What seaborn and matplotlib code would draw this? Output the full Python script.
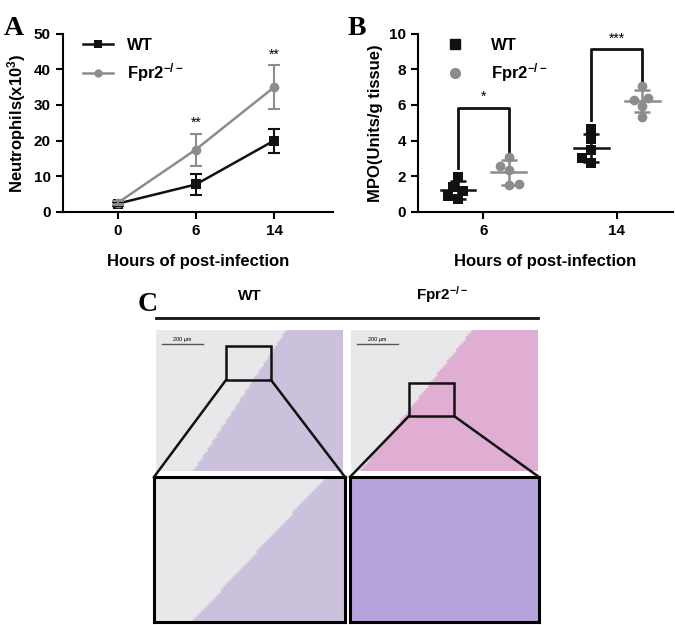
import numpy as np
import pandas as pd
import seaborn as sns
from matplotlib import pyplot as plt, rc
from matplotlib.lines import Line2D
from matplotlib.patches import Rectangle

rc('font', family='Liberation Sans', weight='bold', size=11)
rc('axes', linewidth=1.5, labelweight='bold')
rc('mathtext', fontset='custom', rm='Liberation Sans:bold', bf='Liberation Sans:bold',
   it='Liberation Sans:bold', default='bf')

# === DATA ===
hours = ['0', '6', '14']
wt_mean = [2.3, 7.7, 20.0]
wt_sd = [0.6, 2.9, 3.4]
ko_mean = [2.5, 17.5, 35.0]
ko_sd = [0.5, 4.5, 6.2]
sig_a = ['', '**', '**']

mpo_hours = ['6', '14']
mpo_wt_6 = [1.98, 1.2, 1.4, 0.9, 0.72]
mpo_ko_6 = [3.1, 2.6, 2.35, 1.55, 1.5]
mpo_wt_14 = [4.65, 4.1, 3.5, 3.0, 2.75]
mpo_ko_14 = [7.05, 6.4, 6.3, 5.95, 5.35]
sig_b = ['*', '***']

BLACK = '#111111'
GREY = '#8c8c8c'
KO = 'Fpr2$^{-/-}$'

fig = plt.figure(figsize=[6.75, 6.25], dpi=100)

# === A ===
ax = fig.add_axes([0.093, 0.661, 0.40, 0.285])
x = np.arange(len(hours))
df_a = pd.DataFrame({'x': np.concatenate([x, x]),
                     'y': wt_mean + ko_mean,
                     'g': ['WT'] * 3 + [KO] * 3})
sns.lineplot(data=df_a, x='x', y='y', hue='g', style='g',
             palette=[BLACK, GREY], markers=['s', 'o'], dashes=False,
             markersize=7, markeredgewidth=0, linewidth=1.8, ax=ax, legend=False)
ax.errorbar(x, wt_mean, yerr=wt_sd, fmt='none', ecolor=BLACK, capsize=4, elinewidth=1.5, capthick=1.5)
ax.errorbar(x, ko_mean, yerr=ko_sd, fmt='none', ecolor=GREY, capsize=4, elinewidth=1.5, capthick=1.5)
for i, s in enumerate(sig_a):
    if s:
        ax.text(x[i], ko_mean[i] + ko_sd[i] + 1, s, ha='center', va='bottom', fontsize=10, weight='normal')
ax.set_xlim(-0.7, 2.75)
ax.set_ylim(0, 50)
ax.set_yticks(range(0, 51, 10))
ax.set_xticks(x, hours)
ax.set_xlabel('Hours of post-infection', fontsize=12, labelpad=12)
ax.set_ylabel('Neutrophils(x10$^3$)', fontsize=12)
ax.tick_params(width=1.5, length=5)
sns.despine(ax=ax)
ha = [Line2D([], [], color=BLACK, marker='s', ms=6, mew=0, lw=1.8),
      Line2D([], [], color=GREY, marker='o', ms=6, mew=0, lw=1.8)]
ax.legend(ha, ['WT', KO], frameon=False, loc='upper left', bbox_to_anchor=(0.02, 1.06),
          fontsize=12, handlelength=1.8)
fig.text(0.005, 0.975, 'A', family='Liberation Serif', weight='bold', fontsize=20, va='top')

# === B ===
bx = fig.add_axes([0.619, 0.661, 0.378, 0.285])
off = 0.19
groups = [(mpo_wt_6, 0 - off, 'WT'), (mpo_ko_6, 0 + off, 'Fpr2'),
          (mpo_wt_14, 1 - off, 'WT'), (mpo_ko_14, 1 + off, 'Fpr2')]
rows = []
for vals, pos, g in groups:
    for v in vals:
        rows.append({'x': pos, 'y': v, 'g': g})
df_b = pd.DataFrame(rows)
sns.swarmplot(data=df_b[df_b.g == 'WT'], x='x', y='y', native_scale=True, color=BLACK,
              marker='s', size=7, ax=bx)
sns.swarmplot(data=df_b[df_b.g == 'Fpr2'], x='x', y='y', native_scale=True, color=GREY,
              marker='o', size=7, ax=bx)
for vals, pos, g in groups:
    c = BLACK if g == 'WT' else GREY
    m, s = np.mean(vals), np.std(vals, ddof=1)
    bx.plot([pos - 0.13, pos + 0.13], [m, m], color=c, lw=1.8)
    bx.errorbar(pos, m, yerr=s, fmt='none', ecolor=c, capsize=6, elinewidth=1.8, capthick=1.8)
for i, s in enumerate(sig_b):
    lo = [mpo_wt_6, mpo_wt_14][i]
    hi = [mpo_ko_6, mpo_ko_14][i]
    top = max(hi) + [2.75, 2.1][i]
    bx.plot([i - off, i - off, i + off, i + off], [max(lo) + 0.5, top, top, max(hi) + 0.25],
            color=BLACK, lw=2)
    bx.text(i, top + 0.2, s, ha='center', va='bottom', fontsize=10, weight='normal')
bx.set_xlim(-0.49, 1.42)
bx.set_ylim(0, 10)
bx.set_yticks(range(0, 11, 2))
bx.set_xticks([0, 1], mpo_hours)
bx.set_xlabel('Hours of post-infection', fontsize=12, labelpad=12)
bx.set_ylabel('MPO(Units/g tissue)', fontsize=12)
bx.tick_params(width=1.5, length=5)
sns.despine(ax=bx)
hb = [Line2D([], [], color=BLACK, marker='s', ms=7, lw=0),
      Line2D([], [], color=GREY, marker='o', ms=7, lw=0)]
bx.legend(hb, ['WT', KO], frameon=False, loc='upper left',
          bbox_to_anchor=(0.02, 1.06), fontsize=12, handletextpad=1.2)
fig.text(0.515, 0.975, 'B', family='Liberation Serif', weight='bold', fontsize=20, va='top')

# === C ===
W, H = 675, 625


def px_axes(x0, y0, x1, y1):
    return fig.add_axes([x0 / W, 1 - y1 / H, (x1 - x0) / W, (y1 - y0) / H])


def tissue(axis, bg, tis, split):
    yy, xx = np.mgrid[0:1:60j, 0:1:80j]
    mask = (xx - split(yy)) > 0
    img = np.where(mask[..., None], np.array(tis), np.array(bg))
    axis.imshow(img, aspect='auto', extent=[0, 1, 0, 1], origin='lower')
    axis.set_xticks([])
    axis.set_yticks([])


fig.text(138 / W, 1 - 292 / H, 'C', family='Liberation Serif', weight='bold', fontsize=20, va='top')
fig.text(250 / W, 1 - 300 / H, 'WT', ha='center', fontsize=11)
fig.text(442 / W, 1 - 300 / H, KO, ha='center', fontsize=11)
fig.add_artist(plt.Line2D([156 / W, 538 / W], [1 - 318 / H] * 2, color=BLACK, lw=2))

light = (0.91, 0.91, 0.92)
lilac = (0.80, 0.76, 0.87)
pink = (0.88, 0.68, 0.83)

c1 = px_axes(156, 330, 343, 471)
tissue(c1, light, lilac, lambda y: 0.2 + 0.5 * y)
c2 = px_axes(351, 330, 538, 471)
tissue(c2, light, pink, lambda y: 0.05 + 0.6 * y)
c3 = px_axes(154, 477, 345, 622)
tissue(c3, light, lilac, lambda y: 0.2 + 0.7 * y)
c4 = px_axes(350, 477, 539, 622)
tissue(c4, (0.84, 0.80, 0.90), (0.72, 0.64, 0.86), lambda y: 0.0 * y - 1)
for a in (c1, c2):
    for sp in a.spines.values():
        sp.set_visible(False)
    a.plot([0.03, 0.25], [0.9, 0.9], color='#555555', lw=1)
    a.text(0.14, 0.92, '200 μm', fontsize=4, ha='center', weight='normal')
for a in (c3, c4):
    for sp in a.spines.values():
        sp.set_linewidth(2.2)

for (bx0, by0, bx1, by1), (lx0, lx1) in [((226, 346, 271, 380), (154, 345)),
                                         ((409, 383, 454, 416), (350, 539))]:
    fig.add_artist(Rectangle((bx0 / W, 1 - by1 / H), (bx1 - bx0) / W, (by1 - by0) / H,
                             fill=False, lw=1.8, ec=BLACK))
    fig.add_artist(plt.Line2D([bx0 / W, lx0 / W], [1 - by1 / H, 1 - 477 / H], color=BLACK, lw=1.8))
    fig.add_artist(plt.Line2D([bx1 / W, lx1 / W], [1 - by1 / H, 1 - 477 / H], color=BLACK, lw=1.8))

fig.savefig('out.png', dpi=100)
